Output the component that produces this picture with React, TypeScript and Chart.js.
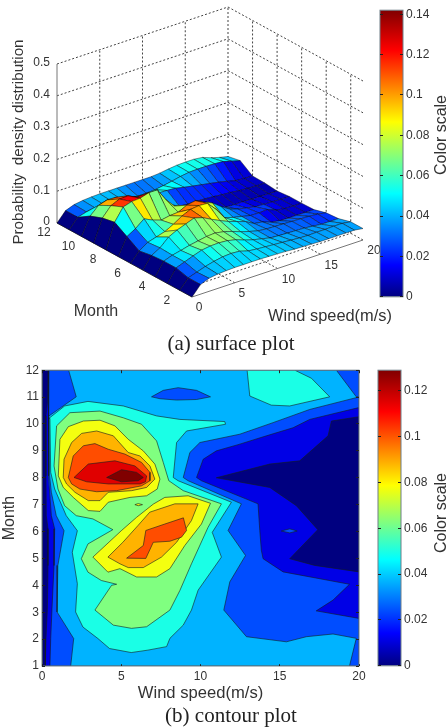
import React, { useEffect, useRef } from "react";
import { Chart, registerables } from "chart.js";

Chart.register(...registerables);

type P = [number, number];

// ---------- (a) surface: density by wind speed 0..20 m/s, one row per month ----------
const month1 = [0, .03, .041, .045, .047, .048, .048, .048, .048, .047, .046, .045, .043, .042, .041, .04, .04, .04, .04, .04, .036];
const month2 = [0, .03, .039, .048, .055, .06, .062, .06, .052, .049, .047, .045, .043, .041, .039, .038, .039, .039, .04, .04, .036];
const month3 = [0, .04, .05, .06, .069, .073, .074, .072, .066, .056, .048, .042, .036, .034, .033, .032, .031, .028, .025, .025, .025];
const month4 = [0, .04, .05, .056, .063, .068, .073, .075, .07, .062, .052, .044, .037, .034, .033, .032, .031, .03, .029, .027, .022];
const month5 = [0, .037, .052, .077, .09, .1, .11, .102, .088, .075, .063, .054, .045, .03, .026, .016, .012, .011, .011, .011, .011];
const month6 = [0, .03, .048, .056, .064, .078, .095, .107, .11, .108, .08, .045, .037, .031, .025, .024, .026, .015, .011, .01, .01];
const month7 = [0, .054, .07, .092, .079, .07, .075, .077, .09, .095, .082, .07, .05, .033, .024, .019, .013, .012, .011, .01, .01];
const month8 = [0, .078, .117, .125, .127, .135, .135, .095, .066, .04, .021, .012, .011, .01, .009, .008, .008, .007, .007, .006, .006];
const month9 = [0, .07, .1, .112, .113, .1, .085, .07, .057, .04, .027, .024, .024, .023, .021, .018, .016, .013, .011, .01, .01];
const month10 = [0, .055, .08, .088, .087, .076, .066, .062, .058, .056, .055, .053, .047, .042, .037, .032, .027, .021, .014, .012, .011];
const month11 = [0, .03, .038, .042, .044, .044, .043, .038, .034, .034, .036, .04, .045, .051, .055, .056, .056, .055, .053, .045, .038];
const month12 = [0, .03, .04, .044, .046, .047, .047, .047, .047, .047, .047, .047, .049, .053, .056, .057, .057, .054, .044, .036, .03];
const surfaceRows = [month1, month2, month3, month4, month5, month6, month7, month8, month9, month10, month11, month12];

const surfaceWindTicks = [0, 5, 10, 15, 20];
const surfaceMonthTicks = [2, 4, 6, 8, 10, 12];
const surfaceZTicks = [0, 0.1, 0.2, 0.3, 0.4, 0.5];

// ---------- (b) contour: filled bands as [wind speed, month] outlines ----------
const bandBase: P[] = [[0, 1], [20, 1], [20, 12], [0, 12]];
const band1: P[] = [[.38, 12], [.34, 10.79], [.25, 10.3], [.25, 8.07], [.27, 6.59], [.38, 6.1], [.38, 4.74], [.34, 3.13], [.25, 2.02], [.21, 1], [20, 1], [20, 4.5], [17.21, 4.74], [15.63, 4.99], [17.4, 6.07], [16.05, 6.96], [14.37, 7.64], [11, 8], [14.37, 8.51], [16.26, 8.63], [18.05, 9.56], [18.26, 10.11], [20, 10.27], [20, 12]];
const band2: P[] = [[.44, 12], [.44, 10.3], [.38, 8.07], [.59, 6.59], [.8, 6.1], [.76, 4.74], [.63, 3.13], [.55, 2.02], [.5, 1], [20, 1], [20, 2.77], [17.3, 3.05], [18.36, 3.45], [19.4, 4.04], [15.21, 4.5], [13.95, 4.99], [13.84, 5.3], [13.74, 6.04], [13.63, 7.03], [10.06, 7.89], [9.75, 8.01], [10.17, 8.69], [11, 9], [12.48, 9.25], [14.16, 9.56], [15.84, 9.86], [16.89, 10.17], [19.92, 10.6], [20, 10.6], [20, 12]];
const band2Spot: P[] = [[15.1, 6.02], [15.63, 6.1], [16.1, 6.02], [15.63, 5.95]];
const band3: P[] = [[1.68, 12], [2.16, 11.01], [.44, 10.3], [.48, 8.07], [.59, 7.46], [.9, 6.59], [1.39, 6.03], [1, 4.74], [.95, 3.01], [2, 2.02], [1.81, 1], [19.4, 1], [19.83, 2.03], [18.36, 2.19], [16.68, 2.09], [15.42, 1.9], [12.9, 2.09], [11.47, 3.08], [11.85, 4.13], [12.84, 5.11], [11.74, 6.04], [12.58, 7.03], [9.22, 7.89], [8.91, 8.01], [9.33, 8.94], [9.96, 9.31], [12.48, 9.62], [14.58, 10.05], [16.89, 10.54], [19.83, 10.98], [20, 11.01], [19.83, 11.01], [18.57, 12]];
const band2Lens: P[] = [[6.91, 11.01], [7.65, 11.25], [8.59, 11.35], [9.75, 11.25], [10.63, 11.01], [9.75, 10.91], [8.49, 10.89], [7.44, 10.94]];
const band4: P[] = [[.44, 10.21], [1.43, 10.67], [2.9, 10.84], [5.13, 10.67], [7.23, 10.3], [8.7, 10.17], [11.53, 10.09], [11.58, 9.99], [9.12, 9.74], [8.49, 9.31], [8.28, 8.01], [8.59, 7.89], [11.95, 7.09], [10.74, 5.97], [11.32, 5.05], [9.85, 3.82], [9.43, 3.08], [8.91, 2.52], [8.07, 2.03], [7.86, 1.72], [6.68, 1.59], [5.63, 1.5], [4.26, 1.65], [3.53, 2.02], [2.58, 2.45], [2.12, 3.01], [2.23, 4.06], [1.91, 5.23], [2.23, 6.03], [1.53, 6.59], [.8, 7.58], [.55, 8.2], [.5, 10.21]];
const band4Top: P[] = [[12.94, 12], [13.11, 11.04], [14.47, 10.7], [15.63, 10.67], [18.15, 11.01], [17, 11.7], [15.95, 12]];
const band5: P[] = [[.92, 9.93], [1.76, 10.42], [3.66, 10.48], [5.13, 10.23], [6.28, 9.99], [7.23, 9.37], [7.65, 8.57], [8, 7.89], [8.91, 7.52], [11.32, 7.03], [10.48, 6.16], [9.43, 4.8], [8.7, 3.81], [8.07, 3.08], [6.6, 2.46], [5.65, 2.4], [4.5, 2.52], [3.34, 3.08], [4.39, 4], [4.71, 4.04], [3.74, 4.18], [2.9, 4.49], [2.48, 4.99], [2.9, 5.54], [4.47, 6.07], [3.21, 6.47], [2.16, 6.59], [1.43, 6.96], [1.01, 7.58], [.76, 8.44]];
const band6Upper: P[] = [[1.03, 8.07], [1.13, 9.43], [1.66, 9.9], [2.61, 10.11], [3.66, 10.14], [4.6, 9.93], [5.44, 9.43], [6.39, 9], [7.12, 8.51], [7.44, 7.95], [7.27, 7.58], [6.6, 7.33], [5.55, 7.27], [4.18, 7.09], [3.66, 6.75], [2.92, 6.78], [1.97, 7.27], [1.34, 7.64]];
const band6Spot: P[] = [[5.86, 7], [6.07, 7.04], [6.34, 7], [6.07, 6.96]];
const band6Lower: P[] = [[7.75, 7.27], [9.22, 7.33], [10.63, 7.05], [10.06, 6.28], [9.01, 5.48], [8.07, 4.62], [7.23, 4.31], [5.97, 4.31], [4.92, 4.62], [4.16, 4.49], [3.21, 5.05], [5, 6.03], [5.97, 6.53], [7.02, 7.02]];
const band7Upper: P[] = [[1.34, 8.01], [1.39, 8.69], [1.87, 9.31], [2.5, 9.65], [3.45, 9.74], [4.5, 9.56], [5.44, 8.94], [6.18, 8.81], [6.81, 8.44], [7.12, 7.95], [6.6, 7.64], [5.65, 7.52], [4.18, 7.46], [3.66, 7.15], [2.92, 7.15], [2.08, 7.46], [1.55, 7.77]];
const band7Lower: P[] = [[8.38, 7.03], [9.85, 7.03], [9.43, 6.41], [8.49, 5.6], [7.54, 5.05], [6.39, 4.66], [5.44, 4.66], [4.92, 4.8], [4.16, 5.05], [5.1, 5.6], [6.05, 6.22], [6.8, 6.72]];
const band8Upper: P[] = [[1.66, 8.01], [1.97, 8.81], [2.61, 9.19], [3.34, 9.27], [4.18, 9.06], [5.23, 8.88], [6.28, 8.57], [6.81, 8.2], [6.81, 7.89], [6.28, 7.7], [4.71, 7.52], [3.45, 7.48], [2.39, 7.58], [1.87, 7.77]];
const band8Lower: P[] = [[5.34, 5.01], [6.39, 5.48], [6.55, 6.04], [7.75, 6.28], [8.92, 6.51], [9.12, 6.04], [8.8, 5.79], [8.07, 5.64], [7.02, 5.6], [6.55, 5]];
const band9: P[] = [[2.02, 8.01], [2.92, 8.51], [4.6, 8.63], [5.86, 8.44], [6.6, 8.07], [6.53, 7.85], [6.18, 7.77], [4.18, 7.77], [2.82, 7.85]];
const band10: P[] = [[4.08, 8.01], [5.02, 8.3], [5.97, 8.2], [6.39, 8.01], [6.07, 7.89], [5.02, 7.85]];

const bandColors = ["#000080", "#0000e6", "#004dff", "#00b3ff", "#1affe6", "#80ff80", "#f4ff10", "#ffb300", "#ff4d00", "#e00000", "#800000"];
const contourBands: [P[], number][] = [
  [bandBase, 0], [band1, 1], [band2, 2], [band2Spot, 2], [band3, 3], [band2Lens, 2],
  [band4, 4], [band4Top, 4], [band5, 5], [band6Upper, 6], [band6Lower, 6], [band6Spot, 6],
  [band7Upper, 7], [band7Lower, 7], [band8Upper, 8], [band8Lower, 8], [band9, 9], [band10, 10],
];

// ---------- colour bars ----------
const jetStops: [number, string][] = [[0, "#000080"], [.11, "#0000ff"], [.36, "#00ffff"], [.61, "#ffff00"], [.86, "#ff0000"], [1, "#800000"]];
const surfaceScaleMax = 0.142;
const contourScaleMax = 0.129;

function jet(t: number) {
  const v = Math.max(0, Math.min(1, t));
  const c = (x: number) => Math.round(255 * Math.max(0, Math.min(1, x)));
  const r = c(Math.min(4 * v - 1.5, 4.5 - 4 * v));
  const g = c(Math.min(4 * v - 0.5, 3.5 - 4 * v));
  const b = c(Math.min(4 * v + 0.5, 2.5 - 4 * v));
  return `rgb(${r},${g},${b})`;
}

// orthographic view of the box used in the surface plot
function project(w: number, m: number, z: number) {
  return {
    x: 192 + (w / 20) * 171 - ((m - 1) / 11) * 135,
    y: 297 - (w / 20) * 57 - ((m - 1) / 11) * 74 - (z / 0.5) * 159,
  };
}

const polyFill = {
  id: "polyFill",
  beforeDatasetDraw(chart: any, args: any) {
    const ds = chart.data.datasets[args.index];
    if (!ds.polyFill) return;
    const pts = args.meta.data;
    const ctx = chart.ctx;
    ctx.save();
    ctx.beginPath();
    pts.forEach((p: any, i: number) => (i ? ctx.lineTo(p.x, p.y) : ctx.moveTo(p.x, p.y)));
    ctx.closePath();
    ctx.fillStyle = ds.polyFill;
    ctx.fill();
    ctx.restore();
  },
};

const frame = {
  id: "frame",
  afterDatasetsDraw(chart: any) {
    const { ctx, chartArea: a } = chart;
    ctx.save();
    ctx.strokeStyle = "#6f7f88";
    ctx.lineWidth = 1;
    ctx.strokeRect(a.left, a.top, a.right - a.left, a.bottom - a.top);
    ctx.restore();
  },
};

const surfaceText = {
  id: "surfaceText",
  afterDraw(chart: any) {
    const { ctx, scales } = chart;
    const at = (p: { x: number; y: number }, dx: number, dy: number): [number, number] => [scales.x.getPixelForValue(p.x) + dx, scales.y.getPixelForValue(p.y) + dy];
    ctx.save();
    ctx.fillStyle = "#333";
    ctx.textBaseline = "middle";
    ctx.textAlign = "center";
    ctx.font = "12px 'Liberation Sans'";
    surfaceWindTicks.forEach((w) => {
      const [x, y] = at(project(w, 1, 0), w < 10 ? 7 : 11, 11);
      ctx.fillText(String(w), x, y);
    });
    surfaceMonthTicks.forEach((m) => {
      const [x, y] = at(project(0, m, 0), -13, 10);
      ctx.fillText(String(m), x, y);
    });
    ctx.textAlign = "right";
    surfaceZTicks.forEach((z) => {
      const [x, y] = at(project(0, 12, z), -7, -1);
      ctx.fillText(String(z), x, y);
    });
    ctx.textAlign = "center";
    ctx.font = "16px 'Liberation Sans'";
    ctx.fillText("Month", 96, 312);
    ctx.font = "16.4px 'Liberation Sans'";
    ctx.fillText("Wind speed(m/s)", 330, 316);
    ctx.translate(19, 142);
    ctx.rotate(-Math.PI / 2);
    ctx.font = "15.2px 'Liberation Sans'";
    ctx.fillText("Probability  density distribution", 0, 0);
    ctx.restore();
  },
};

function closed(points: P[]) {
  const d = points.map(([x, y]) => ({ x, y }));
  d.push({ ...d[0] });
  return d;
}

function surfaceDatasets() {
  const out: any[] = [];
  const line = (a: any, b: any, dash: number[], color: string) =>
    out.push({ data: [a, b], showLine: true, pointRadius: 0, borderWidth: 1, borderColor: color, borderDash: dash });
  const dash = [2, 2];
  const grid = "#444";
  surfaceZTicks.slice(1).forEach((z) => {
    line(project(0, 12, z), project(20, 12, z), dash, grid);
    line(project(20, 12, z), project(20, 1, z), dash, grid);
  });
  surfaceWindTicks.slice(1).forEach((w) => line(project(w, 12, 0), project(w, 12, 0.5), dash, grid));
  surfaceMonthTicks.slice(0, -1).forEach((m) => line(project(20, m, 0), project(20, m, 0.5), dash, grid));
  surfaceWindTicks.slice(1, -1).forEach((w) => line(project(w, 1, 0), project(w, 12, 0), dash, grid));
  surfaceMonthTicks.slice(0, -1).forEach((m) => line(project(0, m, 0), project(20, m, 0), dash, grid));
  line(project(20, 12, 0), project(20, 1, 0), dash, grid);
  line(project(0, 12, 0), project(20, 12, 0), dash, grid);
  line(project(0, 12, 0), project(0, 12, 0.5), [], "#777");
  line(project(0, 1, 0), project(20, 1, 0), [], "#777");
  line(project(0, 12, 0), project(0, 1, 0), [], "#555");
  for (let mi = surfaceRows.length - 2; mi >= 0; mi--) {
    for (let wi = surfaceRows[mi].length - 2; wi >= 0; wi--) {
      const a = surfaceRows[mi], b = surfaceRows[mi + 1];
      const pts = [project(wi, mi + 1, a[wi]), project(wi + 1, mi + 1, a[wi + 1]), project(wi + 1, mi + 2, b[wi + 1]), project(wi, mi + 2, b[wi])];
      pts.push({ ...pts[0] });
      out.push({
        data: pts, showLine: true, pointRadius: 0, borderWidth: 0.7, borderColor: "rgba(0,0,0,.6)",
        polyFill: jet(a[wi] / surfaceScaleMax),
      });
    }
  }
  return out.reverse();
}

function contourDatasets() {
  return contourBands
    .map(([points, k]) => ({
      data: closed(points), showLine: true, pointRadius: 0, borderWidth: 1, borderColor: "rgba(20,30,30,.6)",
      polyFill: bandColors[k],
    }))
    .reverse();
}

function colorBarConfig(max: number, top: number, bottom: number): any {
  return {
    type: "bar",
    data: {
      labels: ["scale"],
      datasets: [{
        data: [[0, max]], barPercentage: 1, categoryPercentage: 1,
        backgroundColor: (c: any) => {
          const s = c.chart.scales.y;
          if (!s || !c.chart.chartArea) return "#000080";
          const g = c.chart.ctx.createLinearGradient(0, s.getPixelForValue(0), 0, s.getPixelForValue(max));
          jetStops.forEach(([t, col]) => g.addColorStop(t, col));
          return g;
        },
      }],
    },
    options: {
      responsive: false, animation: false,
      layout: { padding: { left: 8, top, bottom, right: 0 } },
      plugins: { legend: { display: false }, tooltip: { enabled: false } },
      scales: {
        x: { display: false },
        y: {
          position: "right", min: 0, max,
          afterFit: (s: any) => { s.width = 37; },
          border: { display: false, dash: [3, 17, 3] },
          grid: { z: 1, color: "#222", drawTicks: false },
          ticks: { stepSize: 0.02, includeBounds: false, padding: 3, color: "#333", font: { family: "'Liberation Sans'", size: 12 }, callback: (v: number) => String(Math.round(v * 100) / 100) },
        },
      },
    },
    plugins: [frame],
  };
}

const textStyle = { position: "absolute", fontFamily: "'Liberation Sans'", color: "#333", whiteSpace: "nowrap" } as const;
const captionStyle = { position: "absolute", fontFamily: "'Liberation Serif'", fontSize: 21, color: "#222", whiteSpace: "nowrap", transform: "translate(-50%,-50%)" } as const;
const canvasStyle = (left: number, top: number) => ({ position: "absolute", left, top, filter: "blur(0.5px)" } as const);

export default function App() {
  const surfaceRef = useRef<HTMLCanvasElement>(null);
  const surfaceBarRef = useRef<HTMLCanvasElement>(null);
  const contourRef = useRef<HTMLCanvasElement>(null);
  const contourBarRef = useRef<HTMLCanvasElement>(null);

  useEffect(() => {
    document.body.style.margin = "0";
    const surface = new Chart(surfaceRef.current!, {
      type: "scatter",
      data: { datasets: surfaceDatasets() },
      options: {
        responsive: false, animation: false,
        plugins: { legend: { display: false }, tooltip: { enabled: false } },
        scales: {
          x: { type: "linear", display: false, min: 0, max: 446 },
          y: { type: "linear", display: false, min: 0, max: 330, reverse: true },
        },
      },
      plugins: [polyFill, surfaceText],
    } as any);
    const contour = new Chart(contourRef.current!, {
      type: "scatter",
      data: { datasets: contourDatasets() },
      options: {
        responsive: false, animation: false,
        layout: { padding: { top: 9, right: 13, left: 0, bottom: 0 } },
        plugins: { legend: { display: false }, tooltip: { enabled: false } },
        scales: {
          x: {
            type: "linear", min: 0, max: 20,
            afterFit: (s: any) => { s.height = 37; },
            border: { display: false, dash: [3, 291, 3] },
            grid: { z: 1, color: "#222", drawTicks: false },
            ticks: { stepSize: 5, padding: 3, color: "#333", font: { family: "'Liberation Sans'", size: 12 } },
            title: { display: true, text: "Wind speed(m/s)", color: "#333", padding: 0, font: { family: "'Liberation Sans'", size: 16.6 } },
          },
          y: {
            type: "linear", min: 1, max: 12,
            afterFit: (s: any) => { s.width = 42; },
            border: { display: false, dash: [3, 311, 3] },
            grid: { z: 1, color: "#222", drawTicks: false },
            ticks: { stepSize: 1, padding: 3, color: "#333", font: { family: "'Liberation Sans'", size: 12 } },
            title: { display: true, text: "Month", color: "#333", padding: 0, font: { family: "'Liberation Sans'", size: 16 } },
          },
        },
      },
      plugins: [polyFill, frame],
    } as any);
    const surfaceBar = new Chart(surfaceBarRef.current!, colorBarConfig(surfaceScaleMax, 8, 10));
    const contourBar = new Chart(contourBarRef.current!, colorBarConfig(contourScaleMax, 9, 10));
    return () => {
      surface.destroy();
      contour.destroy();
      surfaceBar.destroy();
      contourBar.destroy();
    };
  }, []);

  return (
    <div style={{ position: "relative", width: 446, height: 727, overflow: "hidden", background: "#fff" }}>
      <canvas ref={surfaceRef} width={446} height={330} style={canvasStyle(0, 0)} />
      <canvas ref={surfaceBarRef} width={68} height={307} style={canvasStyle(372, 0)} />
      <canvas ref={contourRef} width={372} height={343} style={canvasStyle(0, 360)} />
      <canvas ref={contourBarRef} width={68} height={316} style={canvasStyle(370, 360)} />
      <div style={{ ...textStyle, fontSize: 16, left: 441, top: 135, transform: "translate(-50%,-50%) rotate(-90deg)" }}>Color scale</div>
      <div style={{ ...textStyle, fontSize: 16, left: 441, top: 513, transform: "translate(-50%,-50%) rotate(-90deg)" }}>Color scale</div>
      <div style={{ ...captionStyle, left: 231, top: 343 }}>(a) surface plot</div>
      <div style={{ ...captionStyle, left: 231, top: 715 }}>(b) contour plot</div>
    </div>
  );
}
